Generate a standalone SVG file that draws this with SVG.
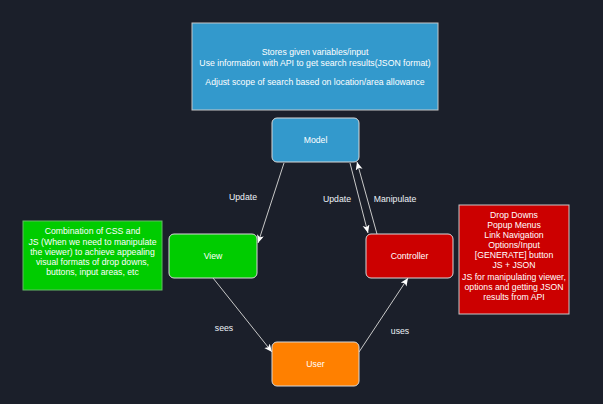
<svg xmlns="http://www.w3.org/2000/svg" width="603" height="404" viewBox="0 0 603 404">
<style>
text{font-family:"Liberation Sans",Arial,sans-serif;font-size:8.7px;fill:#ffffff;text-anchor:middle}
.lbl{fill:#eef2f8}
.edge{stroke:#c8c8c8;stroke-width:1;fill:none}
.node{stroke:#d8d8d8;stroke-width:1}
</style>
<defs>
<marker id="arr" markerUnits="userSpaceOnUse" markerWidth="10" markerHeight="8" refX="8" refY="3.5" orient="auto">
<path d="M0,0 L8,3.5 L0,7 L2,3.5 z" fill="#ffffff"/>
</marker>
</defs>
<rect width="603" height="404" fill="#1b1f2a"/>
<g id="desc-model">
<rect x="192" y="23" width="246" height="87" fill="#3399cc" stroke="#c8c8c8"/>
<text x="315" y="55">Stores given variables/input</text>
<text x="315" y="66">Use information with API to get search results(JSON format)</text>
<text x="315" y="85">Adjust scope of search based on location/area allowance</text>
</g>
<g id="desc-view">
<rect x="23" y="221" width="139" height="69" fill="#00cc00" stroke="#66bb66"/>
<text x="92.5" y="234">Combination of CSS and</text>
<text x="92.5" y="244.5">JS (When we need to manipulate</text>
<text x="92.5" y="255">the viewer) to achieve appealing</text>
<text x="92.5" y="265">visual formats of drop downs,</text>
<text x="92.5" y="275">buttons, input areas, etc</text>
</g>
<g id="desc-controller">
<rect x="459" y="205" width="110" height="109" fill="#cc0000" stroke="#c8c8c8"/>
<text x="514" y="218">Drop Downs</text>
<text x="514" y="228">Popup Menus</text>
<text x="514" y="238">Link Navigation</text>
<text x="514" y="248">Options/Input</text>
<text x="514" y="258">[GENERATE] button</text>
<text x="514" y="268">JS + JSON</text>
<text x="514" y="279.5">JS for manipulating viewer,</text>
<text x="514" y="289.5">options and getting JSON</text>
<text x="514" y="299.5">results from API</text>
</g>
<g id="connectors">
<line class="edge" x1="284" y1="163" x2="258" y2="243" marker-end="url(#arr)"/>
<line class="edge" x1="350" y1="163" x2="368" y2="233" marker-end="url(#arr)"/>
<line class="edge" x1="377" y1="234" x2="357" y2="162" marker-end="url(#arr)"/>
<line class="edge" x1="213" y1="278" x2="272" y2="352" marker-end="url(#arr)"/>
<line class="edge" x1="359" y1="352" x2="408" y2="278" marker-end="url(#arr)"/>
<text class="lbl" x="243" y="200">Update</text>
<text class="lbl" x="337" y="202">Update</text>
<text class="lbl" x="395" y="202">Manipulate</text>
<text class="lbl" x="224" y="331">sees</text>
<text class="lbl" x="400" y="334">uses</text>
</g>
<g id="model">
<rect class="node" x="272" y="118" width="87" height="44" rx="5" fill="#3399cc"/>
<text x="315.5" y="143">Model</text>
</g>
<g id="view">
<rect class="node" x="169" y="234" width="88" height="44" rx="5" fill="#00cc00"/>
<text x="213" y="259">View</text>
</g>
<g id="controller">
<rect class="node" x="366" y="234" width="87" height="44" rx="5" fill="#cc0000"/>
<text x="409.5" y="259">Controller</text>
</g>
<g id="user">
<rect class="node" x="272" y="342" width="87" height="44" rx="5" fill="#ff8000"/>
<text x="315.5" y="367">User</text>
</g>
</svg>
